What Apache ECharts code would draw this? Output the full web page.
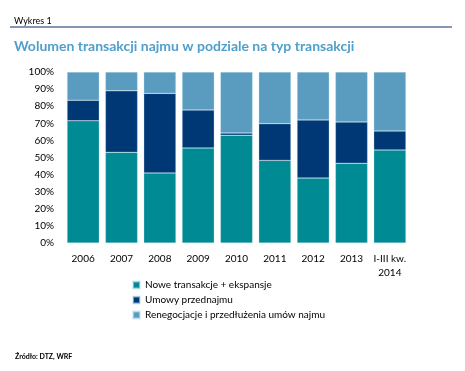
<!DOCTYPE html>
<html><head><meta charset="utf-8">
<script src="https://cdn.jsdelivr.net/npm/echarts@6/dist/echarts.min.js"></script>
<style>html,body{margin:0;padding:0;background:#fff}#c{width:465px;height:371px}</style>
</head><body><div id="c"></div>
<script>
var categories = ['2006','2007','2008','2009','2010','2011','2012','2013','I-III kw.\n2014'];
var seriesNames = ['Nowe transakcje + ekspansje','Umowy przednajmu','Renegocjacje i przedłużenia umów najmu'];
var nowe = [71.5, 53, 41, 55.6, 63, 48.3, 38, 46.6, 54.4];
var przednajem = [12, 36, 46.5, 22.2, 1.3, 21.5, 34, 24.2, 11.1];
var renegocjacje = [16.5, 11, 12.5, 22.2, 35.7, 30.2, 28, 29.2, 34.5];
var yTicks = [0,10,20,30,40,50,60,70,80,90,100];
var colors = ['#008a94','#003876','#5a9cc0'];
var font = 'Lato, "Open Sans", sans-serif';
var chart = echarts.init(document.getElementById('c'));
var data = [nowe, przednajem, renegocjacje];
chart.setOption({
  animation:false,
  textStyle:{fontFamily:font},
  title:[
    {text:'Wykres 1', left:9, top:12, textStyle:{fontSize:9, fontWeight:'normal', color:'#000', fontFamily:font}},
    {text:'Wolumen transakcji najmu w podziale na typ transakcji', left:9, top:34, textStyle:{fontSize:14, fontWeight:'bold', color:'#4f9fcd', fontFamily:font}},
    {text:'Źródło: DTZ, WRF', left:10, top:348, textStyle:{fontSize:7, fontWeight:'bold', color:'#000', fontFamily:font}}
  ],
  graphic:[{type:'line', shape:{x1:10,y1:27,x2:452,y2:27}, style:{stroke:'#0d2f6b', lineWidth:1}}],
  grid:{left:64, right:56, top:72, bottom:128},
  legend:{orient:'vertical', left:127, top:275, itemWidth:7, itemHeight:7, itemGap:5,
    icon:'rect', textStyle:{fontSize:10, color:'#000', fontFamily:font}, data:seriesNames},
  xAxis:{type:'category', data:categories, axisLine:{show:false}, axisTick:{show:false},
    axisLabel:{fontSize:10, color:'#000', margin:9, interval:0, lineHeight:14}},
  yAxis:{type:'value', min:0, max:100, interval:10, splitLine:{show:false}, axisLine:{show:false}, axisTick:{show:false},
    axisLabel:{fontSize:10, color:'#000', margin:10, formatter:function(v){return yTicks.indexOf(v)>=0? v+'%':'';}}},
  series: seriesNames.map(function(n,i){return {
    name:n, type:'bar', stack:'s', data:data[i], barCategoryGap:'16%',
    itemStyle:{color:colors[i], borderColor:'rgba(200,230,240,0.6)', borderWidth:0.5}
  };})
});
</script></body></html>
